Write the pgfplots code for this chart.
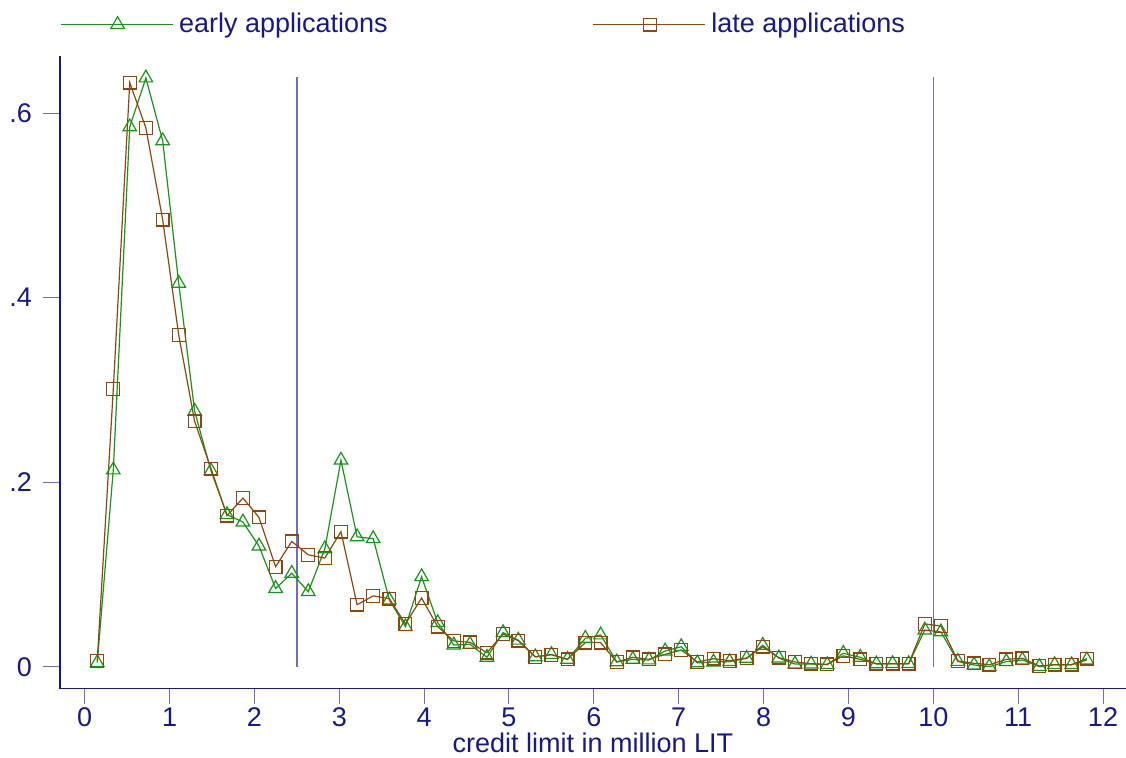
\documentclass[border=0pt]{standalone}
\usepackage{fontspec}
\setmainfont{Liberation Sans}
\usepackage{pgfplots}
\pgfplotsset{compat=1.18}

\definecolor{stnavy}{RGB}{24,24,138}
\definecolor{sttick}{RGB}{110,110,190}
\definecolor{stline}{RGB}{110,110,192}
\definecolor{stgreen}{RGB}{22,150,22}
\definecolor{stbrown}{RGB}{140,72,12}

% share of applications by credit limit bin
\pgfplotstableread{
x      early    late
0.148  0.0047   0.0068
0.337  0.2134   0.3008
0.531  0.585    0.633
0.721  0.638    0.584
0.919  0.570    0.4845
1.108  0.4156   0.3596
1.296  0.277    0.266
1.488  0.2126   0.215
1.677  0.165    0.164
1.865  0.157    0.183
2.054  0.131    0.162
2.250  0.085    0.1086
2.440  0.1015   0.136
2.635  0.0816   0.1215
2.830  0.128    0.118
3.020  0.224    0.1466
3.210  0.141    0.0675
3.400  0.139    0.077
3.590  0.0726   0.074
3.780  0.0437   0.0466
3.970  0.0978   0.0747
4.160  0.048    0.0437
4.350  0.0238   0.0282
4.540  0.0246   0.0267
4.740  0.0105   0.0155
4.930  0.0372   0.0357
5.110  0.029    0.0285
5.310  0.011    0.011
5.500  0.0135   0.0133
5.690  0.0083   0.0083
5.900  0.031    0.0264
6.080  0.0347   0.0264
6.270  0.0055   0.0054
6.460  0.0083   0.0105
6.650  0.0076   0.0083
6.840  0.0173   0.0137
7.030  0.022    0.0184
7.220  0.0044   0.0054
7.410  0.0054   0.009
7.600  0.0058   0.0068
7.800  0.0094   0.0097
7.990  0.0235   0.022
8.180  0.0097   0.0101
8.370  0.0032   0.0054
8.560  0.0032   0.0036
8.750  0.0025   0.0029
8.940  0.0148   0.012
9.140  0.0105   0.0083
9.330  0.0033   0.0036
9.520  0.0036   0.0036
9.710  0.0036   0.0036
9.900  0.040    0.0466
10.090 0.038    0.0444
10.290 0.006    0.0065
10.480 0.0022   0.004
10.660 0.0004   0.0025
10.860 0.0058   0.0083
11.050 0.0076   0.0094
11.250 0.0004   0.0011
11.430 0.0025   0.0025
11.630 0.0025   0.0025
11.810 0.0076   0.009
}\credit

\begin{document}
\begin{tikzpicture}
\useasboundingbox (-30pt,-34.25pt) rectangle (533pt,344.25pt);
\begin{axis}[
  scale only axis,
  width=533pt, height=316.25pt,
  xmin=-0.291, xmax=12.271,
  ymin=-0.0233, ymax=0.6618,
  axis x line*=bottom, axis y line*=left,
  axis line style={stnavy, line width=0.65pt},
  font=\fontsize{13.5}{16}\selectfont,
  every tick label/.append style={stnavy},
  /pgf/number format/assume math mode=true,
  xtick={0,1,...,12},
  ytick={0,0.2,0.4,0.6},
  yticklabels={0,.2,.4,.6},
  tick align=outside,
  xtick style={sttick, line width=0.5pt, /pgfplots/major tick length=7.5pt},
  ytick style={sttick, line width=0.5pt, /pgfplots/major tick length=8.5pt},
  xticklabel style={yshift=-2pt},
  yticklabel style={xshift=-6.25pt},
  minor tick num=0,
  xlabel={credit limit in million LIT},
  xlabel style={stnavy, at={(axis description cs:0.5,0)}, anchor=center, yshift=-27pt},
  legend columns=2,
  legend cell align=left,
  legend style={draw=none, fill=none, inner sep=0pt, outer sep=0pt,
    at={(axis description cs:0,1)}, anchor=west, yshift=15.75pt,
    column sep=0pt, text=stnavy,
    font=\fontsize{13.5}{16}\selectfont},
  legend image code/.code={%
    \draw[mark repeat=2,mark phase=2,#1] plot coordinates {(0pt,0pt) (28.5pt,0pt) (56pt,0pt)};},
]
\addplot[stline, line width=0.7pt, forget plot] coordinates {(2.5,0) (2.5,0.639)};
\addplot[stline, line width=0.7pt, forget plot] coordinates {(10,0) (10,0.639)};
\addplot[stgreen, line width=0.6pt, mark=triangle, mark size=3.9pt,
  mark options={solid, line width=0.6pt}] table[x=x, y=early] {\credit};
\addlegendentry{\hspace*{1pt}\makebox[204.5pt][l]{early applications}}
\addplot[stbrown, line width=0.6pt, mark=square, mark size=3.2pt,
  mark options={solid, line width=0.6pt}] table[x=x, y=late] {\credit};
\addlegendentry{\hspace*{1pt}late applications}
\end{axis}
\end{tikzpicture}
\end{document}
